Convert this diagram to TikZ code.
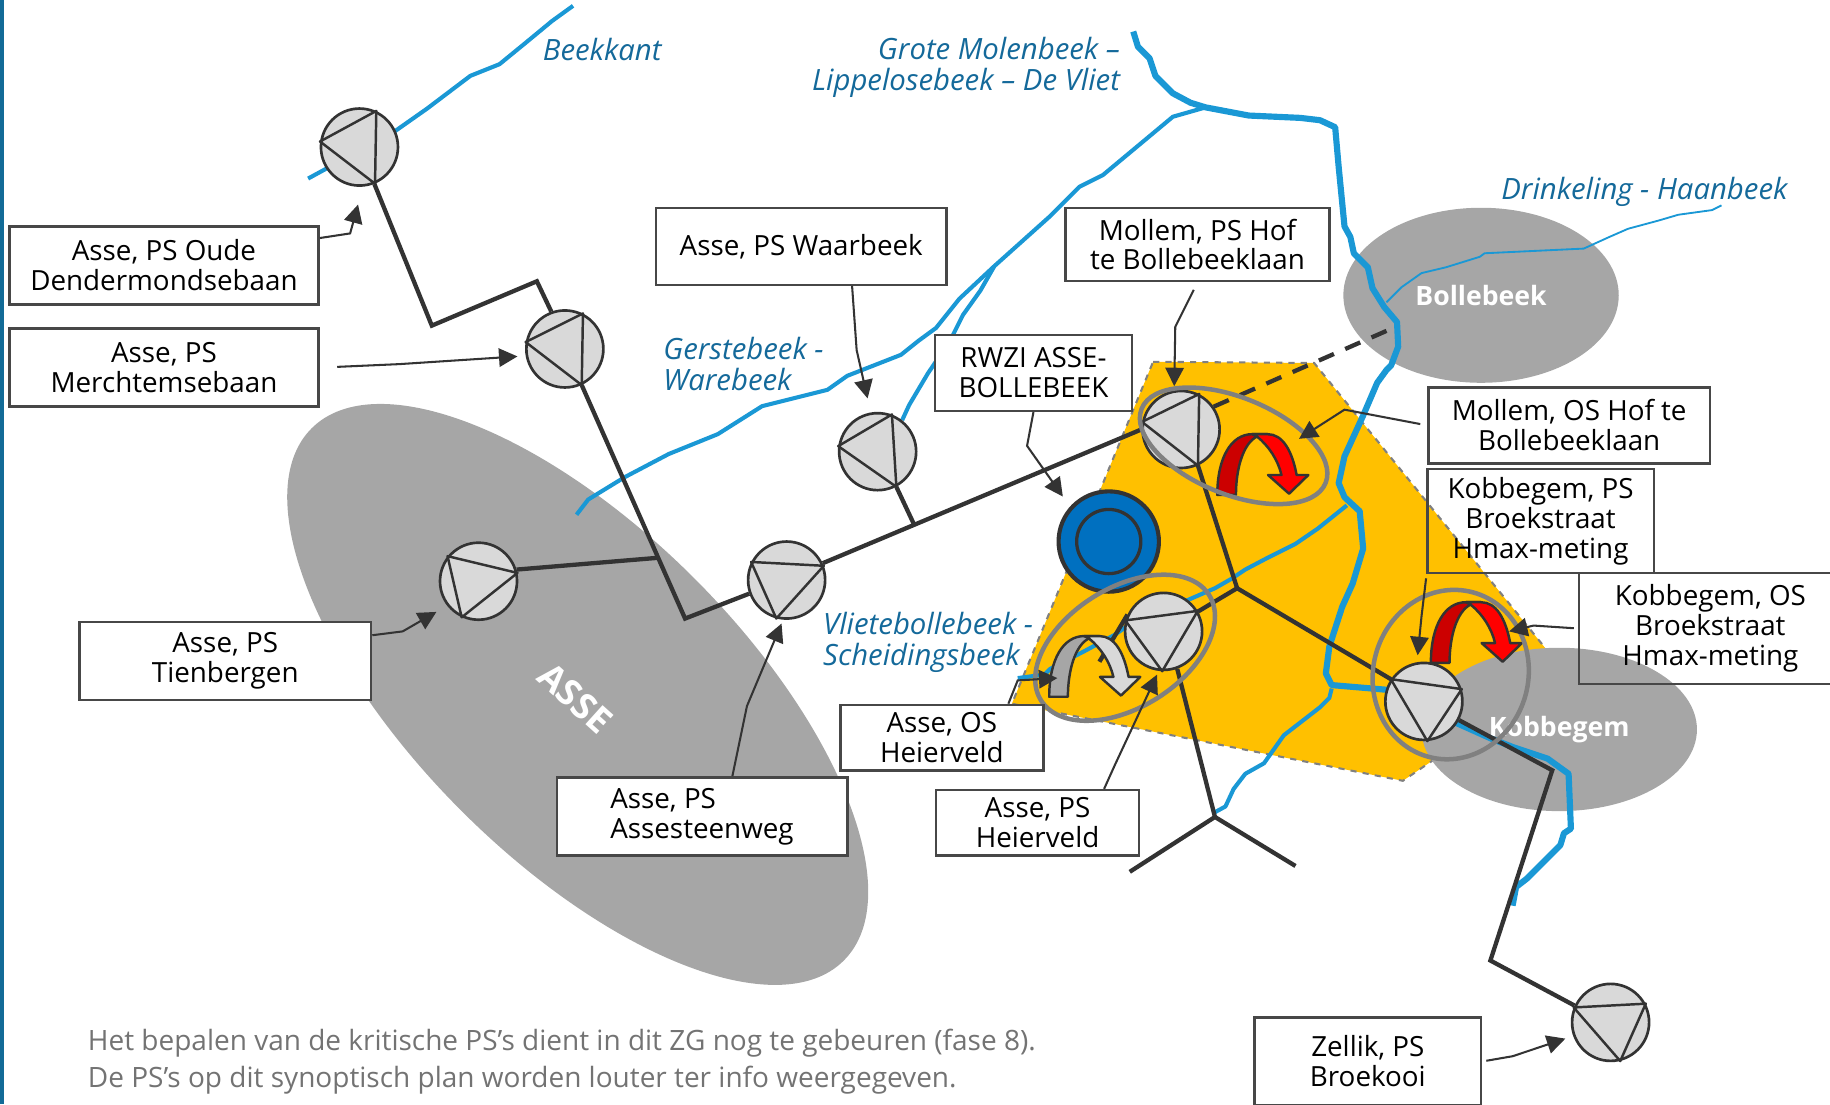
\documentclass[tikz,border=0pt]{standalone}
\usepackage{fontspec}
\setmainfont{Open Sans}
\usetikzlibrary{positioning,arrows.meta,shapes.geometric}
\definecolor{riverblue}{HTML}{1A98D5}
\definecolor{rivertext}{HTML}{14699A}
\definecolor{zonegold}{HTML}{FFC000}
\definecolor{citygrey}{HTML}{A6A6A6}
\definecolor{inkdark}{HTML}{333333}
\definecolor{plantblue}{HTML}{0070C0}
\tikzset{
  pump/.style={circle,draw=inkdark,fill=black!15,line width=1.3pt,minimum size=1.32cm,inner sep=0pt},
  pumptri/.style={draw=inkdark,line width=1.2pt,line join=round},
  pipe/.style={draw=inkdark,line width=2.1pt,line join=miter},
  river/.style={draw=riverblue,line width=2pt,line join=round},
  riverfat/.style={draw=riverblue,line width=3pt,line join=round},
  riverthin/.style={draw=riverblue,line width=0.9pt,line join=round},
  lblbox/.style={draw=inkdark!90,line width=1.2pt,fill=white,align=center,inner sep=0pt,
    font=\fontsize{13.55}{14.6}\selectfont},
  note/.style={draw=inkdark,line width=1pt,-{Triangle[length=9pt,width=9pt]}},
  rivername/.style={text=rivertext,inner sep=0pt,font=\fontsize{14.3}{15.1}\selectfont\itshape},
  city/.style={ellipse,fill=citygrey,text=white,inner sep=0pt,font=\fontsize{13}{15}\selectfont\bfseries},
  ring/.style={ellipse,draw=black!50,line width=2.2pt,inner sep=0pt},
  foottext/.style={text=black!55,inner sep=0pt,align=left,anchor=north west,font=\fontsize{13.65}{18.2}\selectfont},
}
% pump symbol: name, position, three corners of the triangle
\newcommand{\pumpicon}[5]{%
  \node[pump] (#1) at (#2) {};
  \draw[pumptri] (#1.#3) -- (#1.#4) -- (#1.#5) -- cycle;
}
% u-turn arrow of an overflow
\newcommand{\uturn}[3]{%
  \begin{scope}[shift={(#1)},draw=inkdark,line width=1.2pt,line join=round]
    \filldraw[fill=#2] (0,0) .. controls (0,-32) and (12,-52) .. (30,-52) -- (43,-52) -- (34,-50) .. controls (22,-44) and (16,-22) .. (16,0) -- cycle;
    \filldraw[fill=#3] (34,-50) .. controls (44,-42) and (52,-30) .. (55,-17) -- (43.5,-17) -- (61.5,-1) -- (78,-17) -- (68,-17) .. controls (64,-38) and (56,-52) .. (43,-52) -- (30,-52) -- cycle;
  \end{scope}
}
\begin{document}
\begin{tikzpicture}[x=0.02cm,y=-0.02cm]
  \useasboundingbox (0,0) rectangle (1568,946);
  \fill[rivertext!90!teal] (0,0) rectangle (3,946);
  % zone and towns
  \draw[fill=zonegold,draw=black!50,line width=1pt,dashed] (988,310) -- (1126,311) -- (1340,575) -- (1202,669) -- (867,603) -- cycle;
  \node[city,rotate=-45,minimum width=12.9cm,minimum height=5.64cm] (asse) at (495,595) {};
  \node[text=white,inner sep=0pt,rotate=-42,font=\fontsize{17.5}{18}\selectfont\bfseries] (assename) at (493,598) {ASSE};
  \node[city,minimum width=4.72cm,minimum height=3cm] (bollebeek) at (1269,253) {Bollebeek};
  \node[city,minimum width=4.72cm,minimum height=2.8cm] (kobbegem) at (1336,625) {\raisebox{-2pt}{Kobbegem}};
  \node[circle,draw=inkdark,fill=plantblue,line width=2pt,minimum size=1.72cm,inner sep=0pt] (rwzi) at (950,464) {};
  \node[circle,draw=inkdark,line width=1.6pt,minimum size=1.1cm,inner sep=0pt] (rwziin) at (950,464) {};
  % rivers
  \draw[river] (264,153) -- (339,112) -- (366,93) -- (403,65) -- (428,55) -- (450,37) -- (473,18) -- (491,5);
  \draw[river] (494,441) -- (504,428) -- (535,409) -- (573,389) -- (615,372) -- (653,348) -- (709,334) -- (726,322) -- (772,304) -- (787,292) -- (802,281) -- (822,256) -- (852,228) -- (900,185) -- (925,160) -- (945,150) -- (975,125) -- (1005,100) -- (1033,92);
  \draw[river] (773,360) -- (779,347) -- (795,320) -- (814,292) -- (825,270) -- (840,249) -- (852,228);
  \draw[riverfat] (971,27) -- (975,40) -- (985,50) -- (990,65) -- (1005,80) -- (1020,88) -- (1033,92) -- (1070,99) -- (1114,101) -- (1131,103) -- (1144,109) -- (1147,143) -- (1152,194) -- (1157,203) -- (1160,217) -- (1172,229) -- (1176,247) -- (1186,263) -- (1197,276) -- (1198,297) -- (1192,313) -- (1188,317) -- (1180,328) -- (1168,356) -- (1152,391) -- (1147,414) -- (1152,426) -- (1165,438) -- (1168,470) -- (1159,500) -- (1150,520) -- (1139,554) -- (1136,577) -- (1141,587) -- (1188,591) -- (1249,620) -- (1278,633) -- (1296,640) -- (1326,650) -- (1344,663) -- (1346,710) -- (1340,714) -- (1337,724) -- (1308,753) -- (1299,760) -- (1296,776);
  \draw[river] (1154,433) -- (1129,453) -- (1110,466) -- (1086,478) -- (1067,488) -- (1055,496) -- (1041,504) -- (1018,514) -- (965,537) -- (955,544) -- (929,558) -- (900,573) -- (895,578) -- (872,581);
  \draw[river] (1141,590) -- (1139,598) -- (1131,606) -- (1100,630) -- (1083,654) -- (1067,663) -- (1057,676) -- (1050,691) -- (1039,697);
  \draw[riverthin] (1188,259) -- (1201,246) -- (1218,234) -- (1239,229) -- (1268,220) -- (1272,217) -- (1357,213) -- (1379,203) -- (1395,196) -- (1421,189) -- (1438,184) -- (1467,180) -- (1475,176);
  % pumps
  \pumpicon{psoude}{308,126}{65}{172}{-67}
  \pumpicon{psmerch}{484,299}{63}{170}{-65}
  \pumpicon{pswaar}{752,387}{69}{172}{-62}
  \pumpicon{pstien}{410,498}{141}{12}{-115}
  \pumpicon{psassest}{674,497}{153}{21}{-105}
  \pumpicon{psmollem}{1012,368}{63}{169}{-65}
  \pumpicon{psheier}{997,541}{31}{164}{-92}
  \pumpicon{pskobbe}{1220,601}{146}{18}{-85}
  \pumpicon{pszellik}{1380,876}{28}{158}{-76}
  % sewers
  \coordinate (jassest) at (563,478);
  \coordinate (jwaar) at (783,449);
  \coordinate (jmollem) at (1060,504);
  \coordinate (jy) at (1041,700);
  \draw[pipe] (psoude.-68) -- (370,279) -- (460,241) -- (psmerch.110);
  \draw[pipe] (psmerch.-65) -- (587,530) -- (psassest.200);
  \draw[pipe] (pstien.17) -- (jassest);
  \draw[pipe] (psassest.25) -- (psmollem.180);
  \draw[pipe] (pswaar.-62) -- (jwaar);
  \draw[pipe,dashed,dash pattern=on 8pt off 6pt] (psmollem.35) -- (1196,280);
  \draw[pipe] (psmollem.-65) -- (jmollem) -- (psheier.30);
  \draw[pipe] (jmollem) -- (pskobbe.146);
  \draw[pipe] (psheier.-70) -- (jy);
  \draw[pipe] (968,747) -- (jy) -- (1110,742);
  \draw[pipe] (psheier.155) -- (942,567);
  \draw[pipe] (pskobbe.-28) -- (1330,660) -- (1277,823) -- (pszellik.155);
  % overflows
  \uturn{1043,424}{red!80!black}{red}
  \uturn{1226,568}{red!80!black}{red}
  \uturn{899,597}{citygrey}{black!15}
  \node[ring,rotate=-22,minimum width=3.4cm,minimum height=1.66cm] (ringmollem) at (1057,382) {};
  \node[ring,rotate=32,minimum width=3.4cm,minimum height=2.05cm] (ringheier) at (964,555) {};
  \node[ring,rotate=-15,minimum width=2.66cm,minimum height=2.92cm] (ringkobbe) at (1243,578) {};
  % labels
  \node[lblbox,minimum width=5.3cm,minimum height=1.34cm] (lbloude) at (140.5,227.5) {Asse, PS Oude\\Dendermondsebaan};
  \node[lblbox,minimum width=5.3cm,minimum height=1.34cm] (lblmerch) at (140.5,315) {Asse, PS\\Merchtemsebaan};
  \node[lblbox,minimum width=4.98cm,minimum height=1.32cm] (lblwaar) at (686.5,211) {Asse, PS Waarbeek};
  \node[lblbox,minimum width=5cm,minimum height=1.34cm] (lbltien) at (193,566.5) {Asse, PS\\Tienbergen};
  \node[lblbox,align=left,minimum width=4.98cm,minimum height=1.34cm] (lblassest) at (601.5,699.5) {Asse, PS\\Assesteenweg};
  \node[lblbox,minimum width=4.52cm,minimum height=1.26cm] (lblmollem) at (1026,209.5) {Mollem, PS Hof\\te Bollebeeklaan};
  \node[lblbox,minimum width=3.38cm,minimum height=1.3cm] (lblrwzi) at (885.5,319.5) {RWZI ASSE-\\BOLLEBEEK};
  \node[lblbox,minimum width=4.82cm,minimum height=1.3cm] (lblmolos) at (1344.5,364.5) {Mollem, OS Hof te\\Bollebeeklaan};
  \node[lblbox,fill=none,minimum width=3.88cm,minimum height=1.78cm] (lblkobps) at (1320,446.5) {Kobbegem, PS\\Broekstraat\\Hmax-meting};
  \node[lblbox,fill=none,minimum width=4.5cm,minimum height=1.9cm] (lblkobos) at (1465.5,538.5) {Kobbegem, OS\\Broekstraat\\Hmax-meting};
  \node[lblbox,minimum width=3.48cm,minimum height=1.12cm] (lblaos) at (807,632) {Asse, OS\\Heierveld};
  \node[lblbox,minimum width=3.48cm,minimum height=1.12cm] (lblheier) at (889,705) {Asse, PS\\Heierveld};
  \node[lblbox,minimum width=3.88cm,minimum height=1.5cm] (lblzellik) at (1172,909.5) {Zellik, PS\\Broekooi};
  % notes to the pumps
  \coordinate (tipmollem) at (1113,376);
  \coordinate (tipkobbe) at (1293,541);
  \coordinate (tipaos) at (906,581);
  \draw[note,shorten >=9pt] (lbloude.10) -- (300,200) -- (psoude.-85);
  \draw[note,shorten <=8.5pt,shorten >=4pt] (lblmerch.east) -- (342,312) -- (psmerch.190);
  \draw[note,shorten >=7pt] (lblwaar.-38) -- (734,300) -- (pswaar.100);
  \draw[note,shorten >=6pt] (lbltien.10) -- (345,541) -- (pstien.218);
  \draw[note,shorten >=2pt] (lblassest.53) -- (640,605) -- (psassest.-95);
  \draw[note,shorten <=4pt,shorten >=2pt] (lblmollem.south) -- (1007,280) -- (psmollem.100);
  \draw[note,shorten >=6pt] (lblrwzi.south) -- (880,382) -- (rwzi.138);
  \draw[note,shorten <=3.5pt] (lblmolos.west) -- (1152,351) -- (tipmollem);
  \draw[note,shorten <=2pt,shorten >=3.4pt] (lblkobps.205) -- (1218,528) -- (pskobbe.100);
  \draw[note,shorten <=2pt] (lblkobos.west) -- (1314,536) -- (tipkobbe);
  \draw[note] (lblaos.27) -- (872,583) -- (tipaos);
  \draw[note,shorten >=2pt] (lblheier.27) -- (955,656) -- (psheier.-97);
  \draw[note,shorten <=2pt,shorten >=4pt] (lblzellik.east) -- (1296,905) -- (pszellik.200);
  % rivers' names
  \node[rivername] (nbeekkant) at (516,42) {Beekkant};
  \node[rivername,align=right,anchor=east] (nmolen) at (960,58) {Grote Molenbeek –\\Lippelosebeek – De Vliet};
  \node[rivername,align=left,anchor=west] (ngerste) at (568,312) {Gerstebeek -\\Warebeek};
  \node[rivername,align=left,anchor=west] (nvliet) at (705,550) {Vlietebollebeek -\\Scheidingsbeek};
  \node[rivername] (ndrink) at (1409,164) {Drinkeling - Haanbeek};
  \node[foottext] (foot) at (75,881) {Het bepalen van de kritische PS’s dient in dit ZG nog te gebeuren (fase 8).\\De PS’s op dit synoptisch plan worden louter ter info weergegeven.};
\end{tikzpicture}
\end{document}
